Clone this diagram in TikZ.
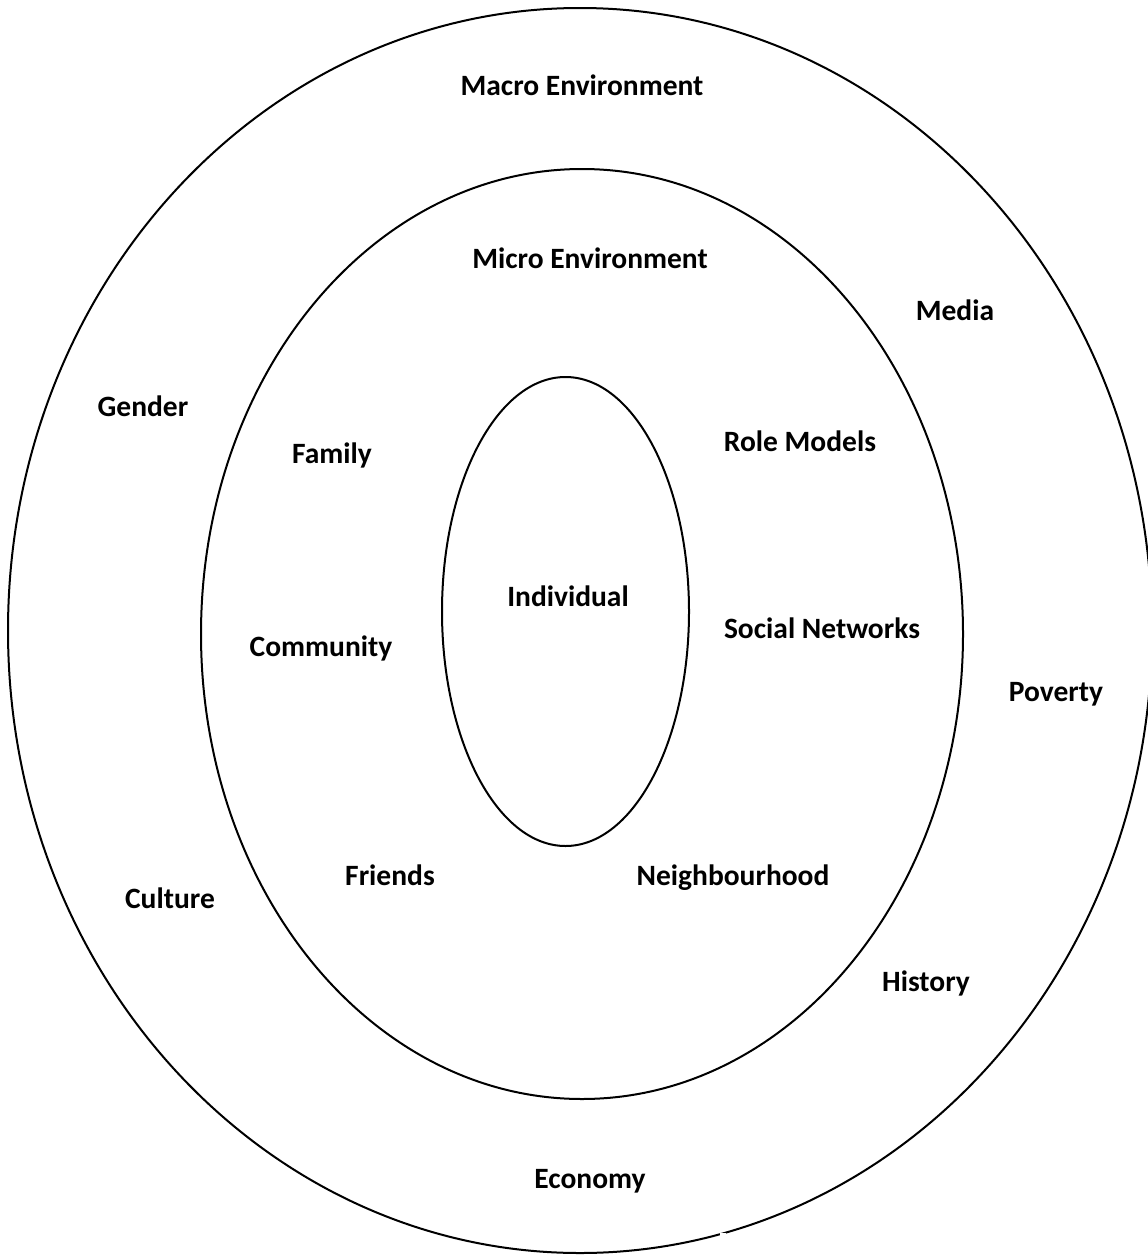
\documentclass[tikz,border=0pt]{standalone}
\usepackage{fontspec}
\setmainfont{Carlito}
\begin{document}
\begin{tikzpicture}[x=1pt,y=-1pt,
  ring/.style={draw=black,line width=2pt},
  lbl/.style={font=\fontsize{29.5}{34}\selectfont\bfseries,inner sep=0pt,anchor=center}]
\useasboundingbox (0,0) rectangle (1148,1258);
\fill[white] (0,0) rectangle (1148,1258);
\begin{scope}
\clip (0,0) rectangle (1148,1258);
\draw[ring] (580,630.5) ellipse [x radius=572, y radius=622.5];
\end{scope}
\draw[ring] (582,634) ellipse [x radius=381, y radius=465];
\draw[ring] (565.5,611.5) ellipse [x radius=123.5, y radius=234.5];
\fill[white] (720,1233) rectangle (726,1243);
\node[lbl] (macro) at (582,85) {Macro Environment};
\node[lbl] (micro) at (590,258) {Micro Environment};
\node[lbl] (media) at (955,310) {Media};
\node[lbl] (gender) at (143,406) {Gender};
\node[lbl] (family) at (332,455) {Family};
\node[lbl] (role) at (800,441) {Role Models};
\node[lbl] (indiv) at (568,596) {Individual};
\node[lbl] (social) at (822,628) {Social Networks};
\node[lbl] (comm) at (321,648) {Community};
\node[lbl] (poverty) at (1056,694) {Poverty};
\node[lbl] (friends) at (390,875) {Friends};
\node[lbl] (neigh) at (733,878) {Neighbourhood};
\node[lbl] (culture) at (170,898) {Culture};
\node[lbl] (history) at (926,983) {History};
\node[lbl] (economy) at (590,1181) {Economy};
\end{tikzpicture}
\end{document}
